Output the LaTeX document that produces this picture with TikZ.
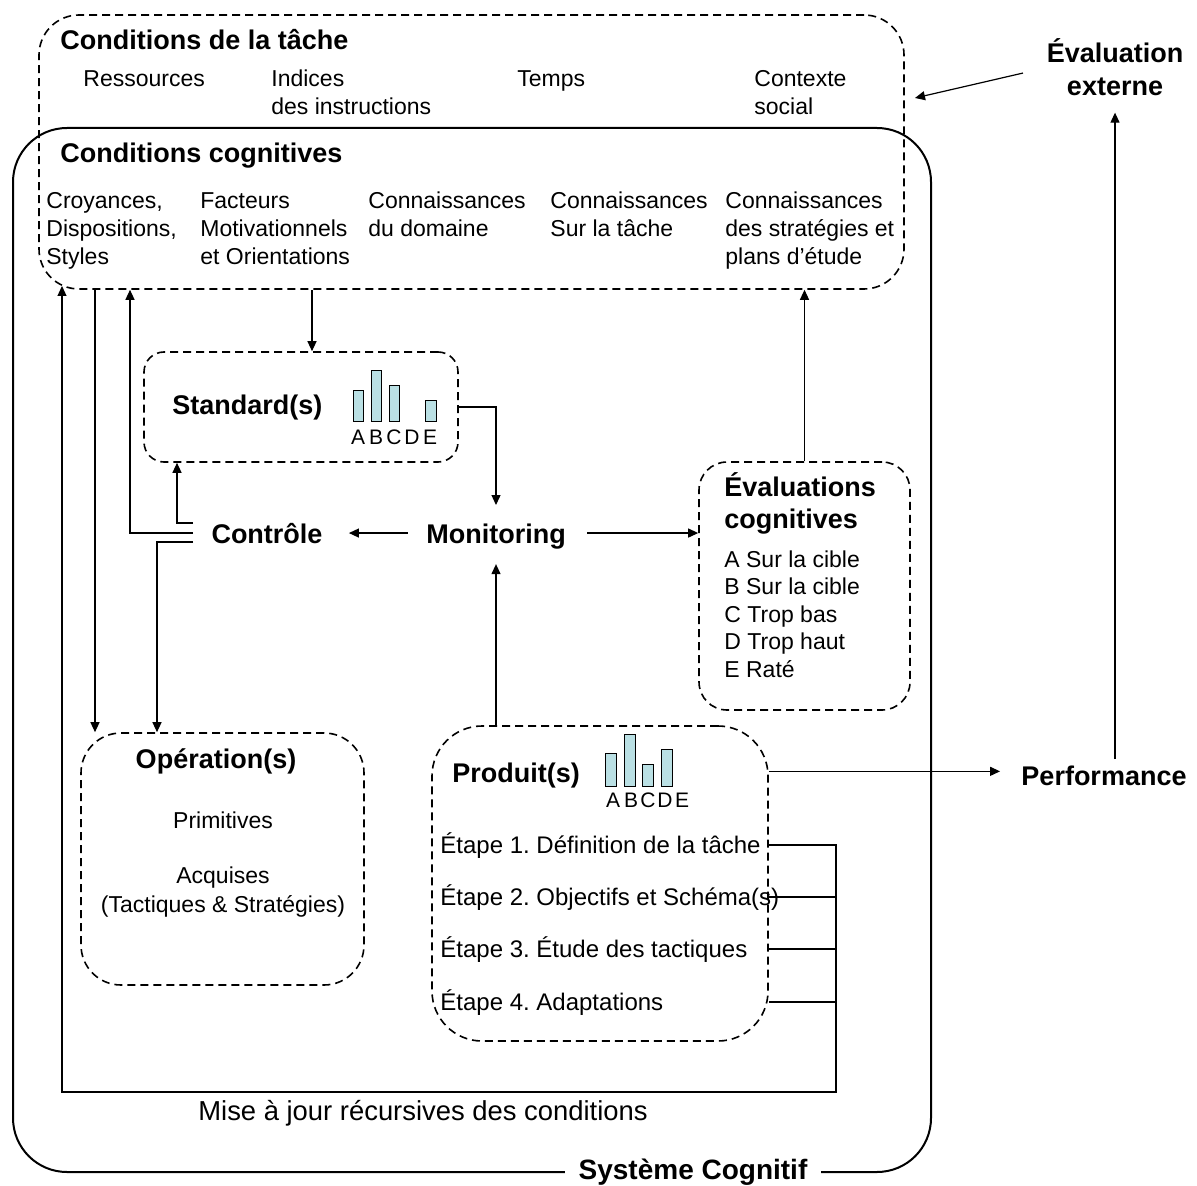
\documentclass[tikz,border=0pt]{standalone}
\usepackage{fontspec}
\setmainfont{Liberation Sans}
\usetikzlibrary{arrows.meta,fit}
\definecolor{barfill}{RGB}{186,224,228}
\frenchspacing
\begin{document}
\begin{tikzpicture}[x=0.5pt,y=-0.5pt,
 dashbox/.style={draw,line width=0.8pt,dash pattern=on 4pt off 2.5pt,inner sep=0pt},
 arr/.style={line width=0.6pt,-{Triangle[length=5pt,width=4.5pt]}},
 ln/.style={line width=0.6pt},
 hd/.style={font=\fontsize{13.5}{16.5}\selectfont\bfseries,inner sep=0pt,align=left},
 txt/.style={font=\fontsize{11.5}{14}\selectfont,inner sep=0pt,align=left},
 stp/.style={font=\fontsize{12}{14}\selectfont,inner sep=0pt,anchor=base west},
 bar/.style={fill=barfill,draw=black,line width=0.5pt},
 lbl/.style={font=\fontsize{10.5}{12}\selectfont,inner sep=0pt,anchor=base}]
 \useasboundingbox (0,0) rectangle (1197,1186);
 \node[draw,line width=1pt,rounded corners=27pt,inner sep=0pt,fit={(13,128) (931,1172)}] (sys) {};
 \node[dashbox,rounded corners=20pt,fit={(39,15) (904,289)}] (cond) {};
 \node[dashbox,rounded corners=10pt,fit={(144,352) (458,462)}] (std) {};
 \node[dashbox,rounded corners=14pt,fit={(699,462) (910,710)}] (evc) {};
 \node[dashbox,rounded corners=20pt,fit={(81,733) (364,985)}] (oper) {};
 \node[dashbox,rounded corners=25pt,fit={(432,726) (768,1041)}] (prod) {};

 \node[hd,anchor=base west] (condt) at (60,50) {Conditions de la tâche};
 \node[txt,anchor=base west] (res) at (83,87) {Ressources};
 \node[txt,anchor=base west] (ind) at (271,115) {Indices\\des instructions};
 \node[txt,anchor=base west] (tps) at (517,87) {Temps};
 \node[txt,anchor=base west] (ctx) at (754,115) {Contexte\\social};
 \node[hd,anchor=base west] (condc) at (60,163) {Conditions cognitives};
 \node[txt,anchor=base west] (croy) at (46,265) {Croyances,\\Dispositions,\\Styles};
 \node[txt,anchor=base west] (fact) at (200,265) {Facteurs\\Motivationnels\\et Orientations};
 \node[txt,anchor=base west] (cdom) at (368,237) {Connaissances\\du domaine};
 \node[txt,anchor=base west] (ctac) at (550,237) {Connaissances\\Sur la tâche};
 \node[txt,anchor=base west] (cstr) at (725,265) {Connaissances\\des stratégies et\\plans d’étude};
 \node[hd,align=center,anchor=base] (evalx) at (1115,96) {Évaluation\\externe};

 \node[hd,anchor=base west] (stdt) at (172,415) {Standard(s)};
 \draw[bar] (353,422) rectangle (363,391);
 \draw[bar] (371,422) rectangle (381,371);
 \draw[bar] (389,422) rectangle (399,386);
 \draw[bar] (425,422) rectangle (436,401);
 \node[lbl] (sa) at (358,445) {A};
 \node[lbl] (sb) at (376,445) {B};
 \node[lbl] (sc) at (394,445) {C};
 \node[lbl] (sd) at (412,445) {D};
 \node[lbl] (se) at (430,445) {E};

 \node[hd,anchor=base] (ctrl) at (267,543) {Contrôle};
 \node[hd,anchor=base] (mon) at (496,543) {Monitoring};

 \node[hd,anchor=base west] (evct) at (724,529) {Évaluations\\cognitives};
 \node[txt,anchor=base west,font=\fontsize{11.5}{13.75}\selectfont] (evci) at (724,677) {A Sur la cible\\B Sur la cible\\C Trop bas\\D Trop haut\\E Raté};

 \node[hd,anchor=base] (opert) at (216,768) {Opération(s)};
 \node[txt,anchor=base] (prim) at (223,828) {Primitives};
 \node[txt,align=center,anchor=base,font=\fontsize{11.5}{14.5}\selectfont] (acq) at (223,912) {Acquises\\(Tactiques \& Stratégies)};

 \node[hd,anchor=base west] (prodt) at (452,782) {Produit(s)};
 \draw[bar] (605,786) rectangle (616,753);
 \draw[bar] (624,786) rectangle (635,734);
 \draw[bar] (642,786) rectangle (653,764);
 \draw[bar] (661,786) rectangle (672,749);
 \node[lbl] (pa) at (613,807) {A};
 \node[lbl] (pb) at (631,807) {B};
 \node[lbl] (pc) at (648,807) {C};
 \node[lbl] (pd) at (665,807) {D};
 \node[lbl] (pe) at (682,807) {E};
 \node[stp] (st1) at (440,853) {Étape 1. Définition de la tâche};
 \node[stp] (st2) at (440,905) {Étape 2. Objectifs et Schéma(s)};
 \node[stp] (st3) at (440,957) {Étape 3. Étude des tactiques};
 \node[stp] (st4) at (440,1010) {Étape 4. Adaptations};

 \node[hd,anchor=base] (perf) at (1104,785) {Performance};
 \node[font=\fontsize{13.7}{16}\selectfont,inner sep=0pt,anchor=base] (maj) at (423,1120) {Mise à jour récursives des conditions};
 \node[hd,font=\fontsize{14}{16}\selectfont\bfseries,fill=white,inner xsep=7pt,anchor=base] (syst) at (693,1179) {Système Cognitif};

 \coordinate (cx) at (915,98);
 \coordinate (cu) at (62,286);
 \coordinate (rb) at (836,1092);
 \draw[arr,shorten <=12pt] (evalx.west) -- (cx);
 \draw[arr,shorten <=3pt,shorten >=8pt] (perf.north -| evalx.south) -- (evalx.south);
 \draw[arr,shorten >=10.5pt] ([yshift=2pt]prod.east |- perf.west) -- ([yshift=2pt]perf.west);
 \draw[arr] (cond.south -| 312,0) -- (std.north -| 312,0);
 \draw[arr] (std.east) -| ([yshift=9pt]mon.north);
 \draw[arr,shorten <=9pt,shorten >=13pt] (mon.west |- ctrl.east) -- (ctrl.east);
 \draw[arr,shorten <=10.5pt] (mon.east |- ctrl.east) -- (ctrl.east -| evc.west);
 \draw[arr] (prod.north -| mon.south) -- ([yshift=-7.5pt]mon.south);
 \draw[arr] (evc.north) -- (evc.north |- cond.south);
 \draw[arr] ([xshift=-9pt,yshift=5pt]ctrl.west) -| (std.south -| 177,0);
 \draw[arr] ([xshift=-9pt]ctrl.west) -| (cond.south -| 130,0);
 \draw[arr] ([xshift=-9pt,yshift=-4.5pt]ctrl.west) -| (oper.north -| 157,0);
 \draw[arr] (cond.south -| 95,0) -- (oper.north -| 95,0);
 \draw[ln] (prod.east |- st2) -- (836,0 |- st2);
 \draw[ln] (prod.east |- st3) -- (836,0 |- st3);
 \draw[ln] (prod.east |- st4) -- (836,0 |- st4);
 \draw[arr] (prod.east |- st1) -| (rb) -| (cu);
\end{tikzpicture}
\end{document}
